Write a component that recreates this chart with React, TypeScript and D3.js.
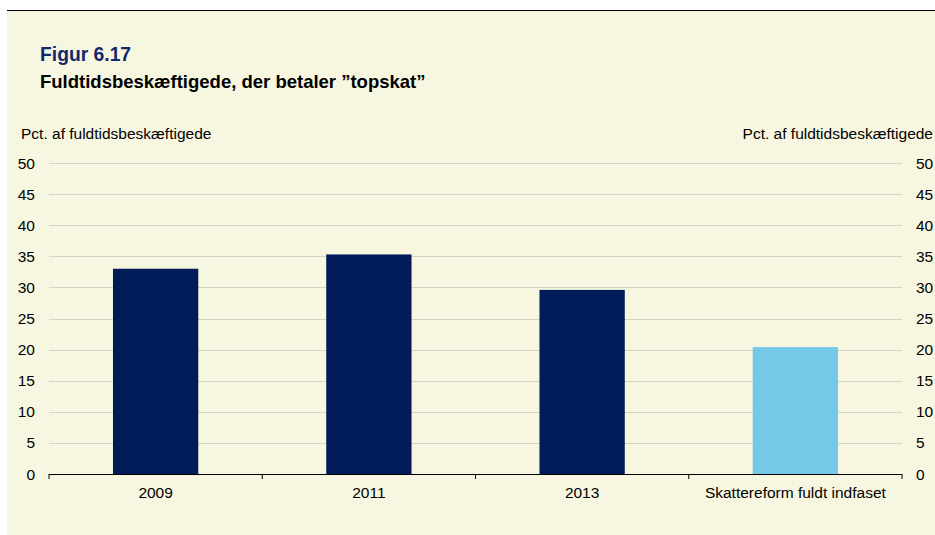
import React from "react";
import * as d3 from "d3";

const categories = ["2009", "2011", "2013", "Skattereform fuldt indfaset"];
const values = [33.0, 35.3, 29.6, 20.4];
const barColors = ["#001b57", "#001b57", "#001b57", "#75c8e6"];
const yTicks = [0, 5, 10, 15, 20, 25, 30, 35, 40, 45, 50];

const W = 935;
const H = 535;
const margin = { left: 49, right: 902, top: 163, bottom: 474 };
const font = "'Liberation Sans', Arial, sans-serif";
const fs = 15.5;

export default function App() {
  const x = d3
    .scaleBand<string>()
    .domain(categories)
    .range([margin.left, margin.right])
    .paddingInner(0.6)
    .paddingOuter(0.3);
  const band = d3.scaleBand<string>().domain(categories).range([margin.left, margin.right]);
  const y = d3.scaleLinear().domain([0, 50]).range([margin.bottom, margin.top]);

  const boundaries = [...categories.map((c) => band(c) as number), margin.right];

  return (
    <svg
      width={W}
      height={H}
      style={{ position: "absolute", left: 0, top: 0, fontFamily: font }}
    >
      <rect x={7} y={10} width={W - 7} height={H - 10} fill="#f7f7e1" />
      <line x1={7} x2={W} y1={10.5} y2={10.5} stroke="#000" strokeWidth={1} />

      <text x={40} y={60.5} fontSize={19.3} fontWeight="bold" fill="#13286b">
        Figur 6.17
      </text>
      <text x={40} y={88} fontSize={18.5} fontWeight="bold" fill="#000">
        Fuldtidsbeskæftigede, der betaler ”topskat”
      </text>

      <text x={21} y={139} fontSize={fs} fill="#000">
        Pct. af fuldtidsbeskæftigede
      </text>
      <text x={933} y={139} fontSize={fs} fill="#000" textAnchor="end">
        Pct. af fuldtidsbeskæftigede
      </text>

      {yTicks.map((t) => (
        <g key={t}>
          {t > 0 && (
            <line
              x1={margin.left}
              x2={margin.right}
              y1={Math.round(y(t)) + 0.5}
              y2={Math.round(y(t)) + 0.5}
              stroke="#d3d3c6"
              strokeWidth={1}
            />
          )}
          <text x={35} y={y(t) + 5.5} fontSize={fs} textAnchor="end" fill="#000">
            {t}
          </text>
          <text x={916} y={y(t) + 5.5} fontSize={fs} textAnchor="start" fill="#000">
            {t}
          </text>
        </g>
      ))}

      {categories.map((c, i) => (
        <rect
          key={c}
          x={x(c)}
          y={y(values[i])}
          width={x.bandwidth()}
          height={y(0) - y(values[i])}
          fill={barColors[i]}
        />
      ))}

      <line
        x1={margin.left}
        x2={margin.right}
        y1={margin.bottom + 0.5}
        y2={margin.bottom + 0.5}
        stroke="#000"
        strokeWidth={1.2}
      />
      {boundaries.map((b, i) => (
        <line key={i} x1={b} x2={b} y1={margin.bottom} y2={margin.bottom + 5} stroke="#000" />
      ))}

      {categories.map((c) => (
        <text
          key={c}
          x={(band(c) as number) + band.bandwidth() / 2}
          y={497.5}
          fontSize={fs}
          textAnchor="middle"
          fill="#000"
        >
          {c}
        </text>
      ))}
    </svg>
  );
}
